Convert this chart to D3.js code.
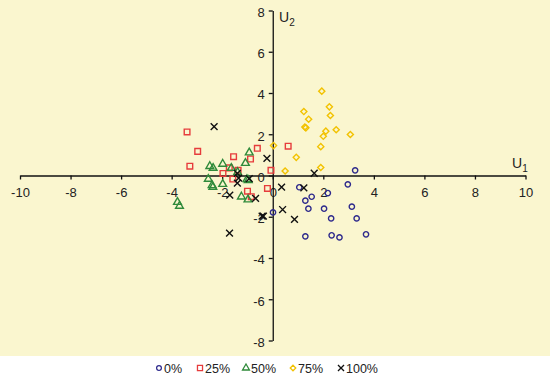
<!DOCTYPE html>
<html>
<head>
<meta charset="utf-8">
<script src="https://cdn.jsdelivr.net/npm/d3@7"></script>
<style>
  body { margin: 0; background: #fff; }
  svg text { font-family: "Liberation Sans", Arial, sans-serif; fill: #222; }
</style>
</head>
<body>
<script>
// scores on the first two discriminant axes, one array per group
var p0 = [[3.26,0.25],[2.97,-0.43],[2.18,-0.85],[1.54,-1.03],[1.29,-1.22],[1.41,-1.61],
          [2.03,-1.61],[3.13,-1.51],[2.31,-2.08],[3.32,-2.08],[0.01,-1.79],[1.29,-2.95],
          [2.33,-2.90],[2.64,-3.0],[3.69,-2.85],[1.05,-0.57]];
var p25 = [[-3.39,2.11],[-2.97,1.17],[-3.28,0.45],[-1.55,0.91],[-0.61,1.32],[0.61,1.42],
           [-0.88,0.80],[-1.72,0.37],[-1.37,0.25],[-1.97,0.10],[-1.58,-0.17],[-0.07,0.25],
           [-1.0,-0.76],[-0.21,-0.63],[-0.85,-1.03]];
var p50 = [[-0.93,1.11],[-1.08,0.60],[-1.98,0.56],[-2.49,0.45],[-2.36,0.36],[-1.64,0.36],
           [-1.39,0.16],[-2.55,-0.17],[-1.98,-0.42],[-2.40,-0.48],[-2.37,-0.56],[-1.24,-1.03],
           [-0.98,-1.17],[-1.02,-0.19],[-0.97,-0.23],[-3.77,-1.29],[-3.69,-1.48]];
var p75 = [[1.94,4.09],[2.24,3.33],[1.23,3.10],[2.28,2.91],[1.42,2.73],[1.27,2.35],
           [1.31,2.31],[2.51,2.22],[2.10,2.15],[2.0,1.90],[3.07,1.99],[1.90,1.40],
           [0.03,1.45],[0.93,0.88],[1.90,0.39],[0.49,0.22]];
var p100 = [[-2.32,2.37],[-0.23,0.83],[1.64,0.11],[-1.40,0.10],[-1.35,-0.13],[-1.40,-0.37],
            [-0.93,-0.15],[0.35,-0.56],[1.23,-0.60],[-1.70,-0.95],[-0.68,-1.11],[0.39,-1.65],
            [-0.37,-1.97],[-0.42,-1.97],[0.86,-2.13],[-1.71,-2.79]];

var groups = ["0%", "25%", "50%", "75%", "100%"];
var xTicks = [-10,-8,-6,-4,-2,0,2,4,6,8,10];
var yTicks = [-8,-6,-4,-2,0,2,4,6,8];

var width = 550, height = 375;

var series = [
  {name: groups[0], data: p0,   color: "#2e2a8c", type: d3.symbolCircle,   size: 22},
  {name: groups[1], data: p25,  color: "#e63c3c", type: d3.symbolSquare,   size: 32},
  {name: groups[2], data: p50,  color: "#2f8a3a", type: d3.symbolTriangle, size: 26},
  {name: groups[3], data: p75,  color: "#f2c200", type: d3.symbolDiamond2, size: 24},
  {name: groups[4], data: p100, color: "#111",    type: d3.symbolTimes,    size: 32}
];

var svg = d3.select("body").append("svg")
    .attr("width", width)
    .attr("height", height);

svg.append("rect")
    .attr("width", width)
    .attr("height", 356)
    .attr("fill", "#faf6cf");

var x = d3.scaleLinear().domain([-10, 10]).range([20, 525.5]);
var y = d3.scaleLinear().domain([-8, 8]).range([340.5, 10.5]);

// plain hyphen for negatives, like the original
var fmt = function(d){ return String(d); };

var xAxis = d3.axisBottom(x)
    .tickValues(xTicks)
    .tickFormat(fmt)
    .tickSize(4)
    .tickSizeOuter(0)
    .tickPadding(8);

var yAxis = d3.axisLeft(y)
    .tickValues(yTicks)
    .tickFormat(fmt)
    .tickSize(4)
    .tickSizeOuter(0)
    .tickPadding(4);

var gx = svg.append("g")
    .attr("transform", "translate(0," + y(0) + ")")
    .call(xAxis);

var gy = svg.append("g")
    .attr("transform", "translate(" + x(0) + ",0)")
    .call(yAxis);

[gx, gy].forEach(function(g){
  g.selectAll("path, line").attr("stroke", "#111").attr("stroke-width", 1.3);
  g.selectAll("text").attr("font-size", 13).attr("fill", "#222")
    .style("font-family", "'Liberation Sans', Arial, sans-serif");
});
gy.selectAll("text").attr("dy", "0.45em");

// axis names with subscripts
var u1 = svg.append("text").attr("x", 512).attr("y", 168).attr("font-size", 14).text("U");
u1.append("tspan").attr("font-size", 10).attr("dy", 4).text("1");
var u2 = svg.append("text").attr("x", 279).attr("y", 22).attr("font-size", 14).text("U");
u2.append("tspan").attr("font-size", 10).attr("dy", 4).text("2");

series.forEach(function(s){
  var sym = d3.symbol().type(s.type).size(s.size);
  svg.append("g").selectAll("path")
    .data(s.data)
    .enter()
    .append("path")
    .attr("d", sym)
    .attr("transform", function(d){ return "translate(" + x(d[0]) + "," + y(d[1]) + ")"; })
    .attr("fill", "none")
    .attr("stroke", s.color)
    .attr("stroke-width", 1.4);
});

// legend
var legendX = [159, 200, 246, 293, 341];
var legend = svg.append("g");
series.forEach(function(s, i){
  var sym = d3.symbol().type(s.type).size(s.size * 0.8);
  legend.append("path")
    .attr("d", sym)
    .attr("transform", "translate(" + legendX[i] + ",368)")
    .attr("fill", "none")
    .attr("stroke", s.color)
    .attr("stroke-width", 1.3);
  legend.append("text")
    .attr("x", legendX[i] + 5)
    .attr("y", 372.5)
    .attr("font-size", 12.5)
    .text(s.name);
});
</script>
</body>
</html>
